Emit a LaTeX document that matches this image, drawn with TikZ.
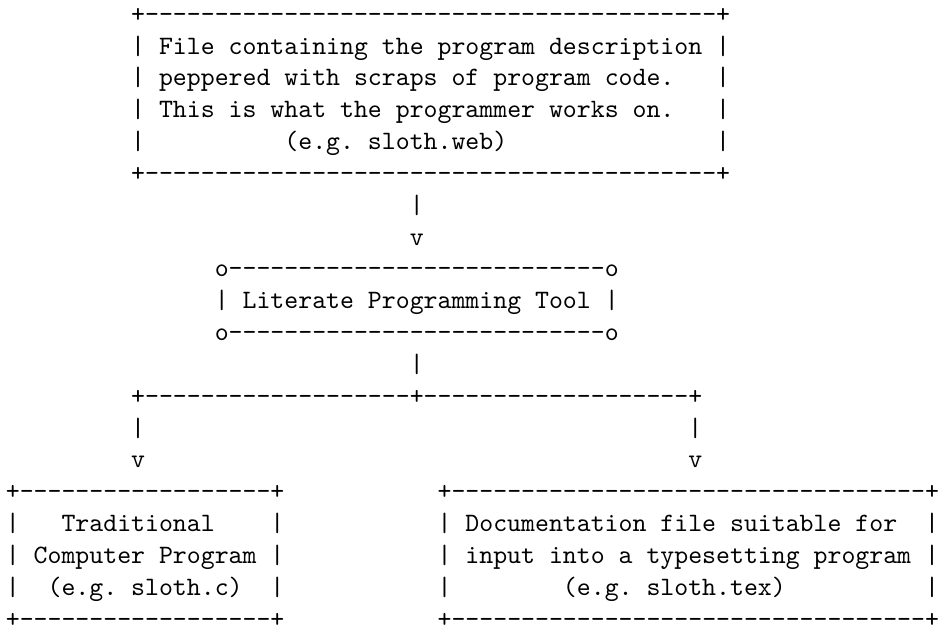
\documentclass[tikz,border=0pt]{standalone}
\usepackage{fontspec}
\newdimen\cwd \cwd=5.25pt
\newcommand\gap[1]{\hskip#1\cwd\relax}
\newcommand\dashes[1]{\foreach\i in {1,...,#1}{-}}
\tikzset{asc/.style={anchor=base west, inner sep=0pt, outer sep=0pt,
  font=\fontsize{10}{12}\selectfont\ttfamily\frenchspacing}}
\newcommand\R[4]{\node[asc] (#1) at ({2.2+#2*5.25},{-8.4-12*#3}) {#4};}
\begin{document}
\begin{tikzpicture}[x=1pt,y=1pt]
\useasboundingbox (0,0) rectangle (356.95,-237.5);
\R{r0}{9}{0}{+\dashes{41}+}
\R{r1}{9}{1}{| File containing the program description |}
\R{r2}{9}{2}{| peppered with scraps of program code.\gap{3}|}
\R{r3}{9}{3}{| This is what the programmer works on.\gap{3}|}
\R{r4}{9}{4}{|\gap{10}(e.g. sloth.web)\gap{15}|}
\R{r5}{9}{5}{+\dashes{41}+}
\R{r6}{29}{6}{|}
\R{r7}{29}{7}{v}
\R{r8}{15}{8}{o\dashes{27}o}
\R{r9}{15}{9}{| Literate Programming Tool |}
\R{r10}{15}{10}{o\dashes{27}o}
\R{r11}{29}{11}{|}
\R{r12}{9}{12}{+\dashes{19}+\dashes{19}+}
\R{r13}{9}{13}{|\gap{39}|}
\R{r14}{9}{14}{v\gap{39}v}
\R{r15}{0}{15}{+\dashes{18}+\gap{11}+\dashes{34}+}
\R{r16}{0}{16}{|\gap{3}Traditional\gap{4}|\gap{11}| Documentation file suitable for\gap{2}|}
\R{r17}{0}{17}{| Computer Program |\gap{11}| input into a typesetting program |}
\R{r18}{0}{18}{|\gap{2}(e.g. sloth.c)\gap{2}|\gap{11}|\gap{8}(e.g. sloth.tex)\gap{10}|}
\R{r19}{0}{19}{+\dashes{18}+\gap{11}+\dashes{34}+}
\end{tikzpicture}
\end{document}
